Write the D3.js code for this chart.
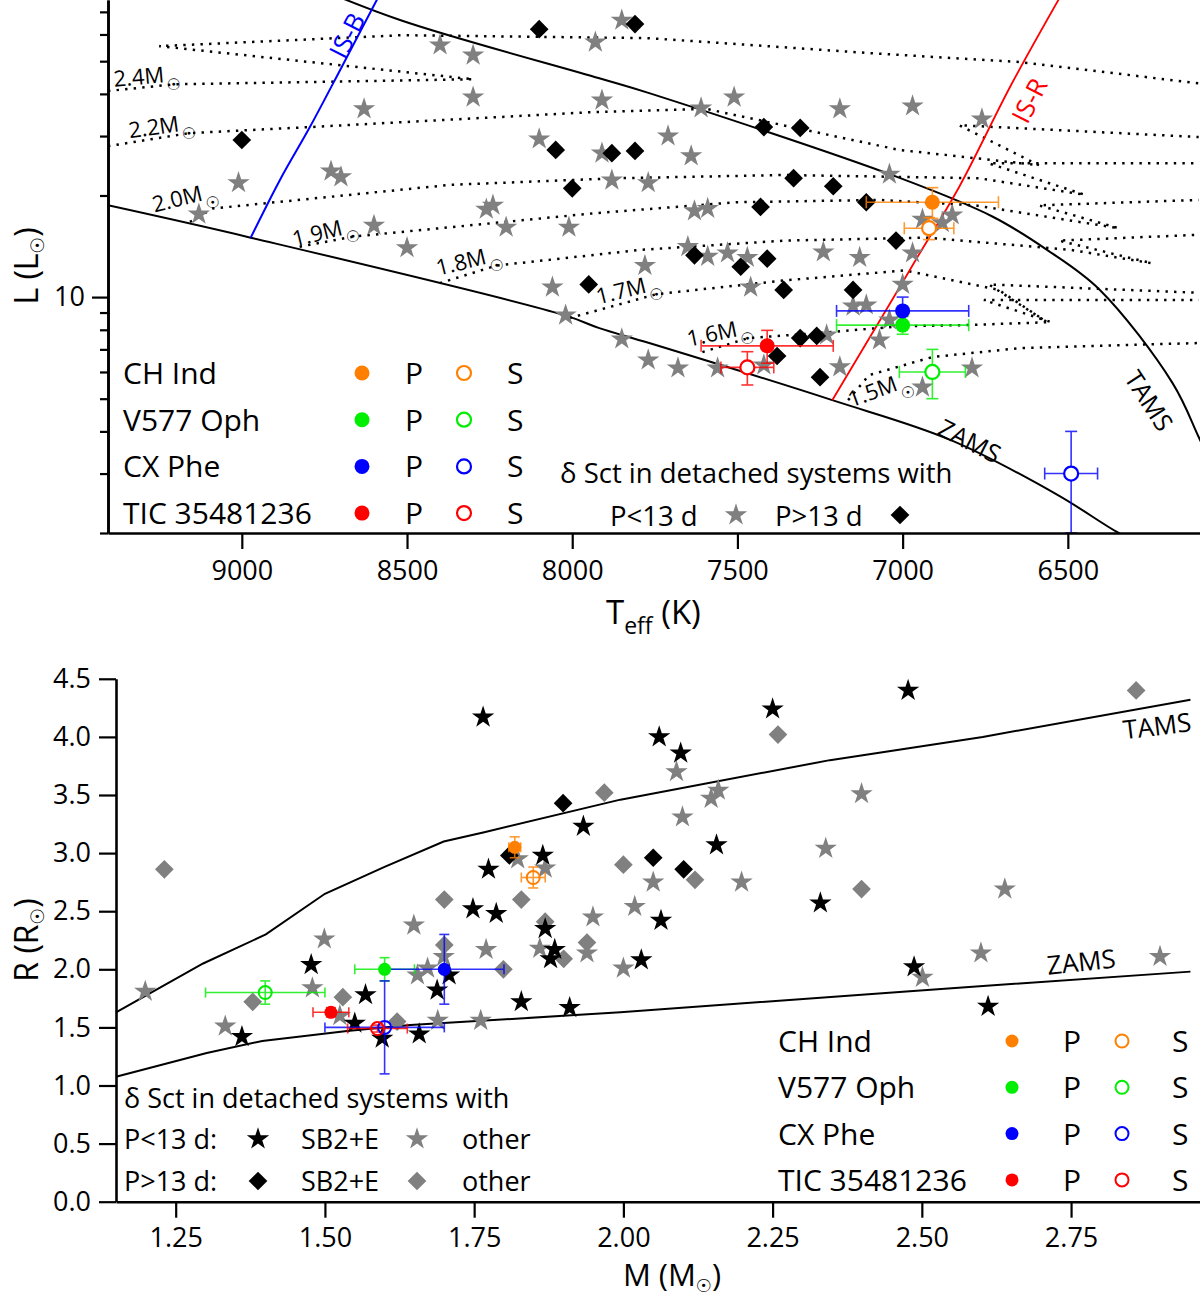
<!DOCTYPE html>
<html>
<head>
<meta charset="utf-8">
<script src="https://cdn.jsdelivr.net/npm/d3@7"></script>
<style>
body { margin: 0; background: #fff; }
svg { display: block; }
text { font-family: "Open Sans", sans-serif; fill: #000; }
.track { fill: none; stroke: #000; stroke-width: 2.5; stroke-dasharray: 2.4 6.2; }
.curve { fill: none; stroke: #000; stroke-width: 2; }
.sun { font-family: "DejaVu Sans", sans-serif; }
</style>
</head>
<body>
<svg id="chart" width="1200" height="1299"></svg>
<script>
// ---------- top panel: HR diagram (Teff [K], L [Lsun]) ----------
// delta Sct stars in detached systems, P < 13 d
const hrShort = [
  [8400, 55.8], [8300, 52.1], [7850, 66.1], [7930, 56.9], [8300, 39.1], [8630, 36.1],
  [7910, 38.3], [7510, 39.1], [7610, 36.3], [7190, 36.1], [6970, 36.8], [6760, 33.7],
  [8100, 29.4], [7710, 30.0], [7640, 26.2], [7910, 26.7], [8730, 23.6], [8700, 22.7],
  [9010, 21.8], [7880, 22.2], [7770, 21.8], [7040, 23.1], [9130, 17.6], [8260, 18.2],
  [8240, 18.7], [8200, 16.1], [8010, 16.1], [8600, 16.3], [8500, 14.0], [8060, 10.7],
  [7780, 12.4], [7630, 18.0], [7590, 18.3], [6850, 17.5], [6940, 17.0], [6880, 16.6],
  [6970, 13.5], [7240, 13.6], [7130, 13.1], [7650, 14.1], [7590, 13.2], [7530, 13.5],
  [7470, 13.1], [7460, 10.7], [7000, 10.9], [7150, 9.40], [7110, 9.47], [7070, 7.46],
  [7040, 8.55], [7230, 7.72], [7850, 7.51], [7770, 6.51], [7680, 6.16], [7560, 6.16],
  [7420, 6.29], [7190, 6.21], [6940, 5.41], [6790, 6.16], [8020, 8.84]
];
// P > 13 d
const hrLong = [
  [8100, 62.2], [7810, 64.4], [9000, 29.2], [8050, 27.3], [7880, 26.7], [7810, 27.1],
  [8000, 21.0], [7950, 10.9], [7420, 31.9], [7310, 31.7], [7330, 22.5], [7210, 21.3],
  [7430, 18.5], [7110, 19.1], [7630, 13.3], [7490, 12.3], [7410, 13.0], [7020, 14.7],
  [7360, 10.5], [7150, 10.5], [7310, 7.56], [7260, 7.67], [7380, 6.69], [7250, 5.79]
];

const zamsHR = [[9405, 18.7], [8973, 15.0], [8024, 8.84], [7918, 8.09], [7767, 7.31],
  [7213, 4.95], [6854, 3.77], [6530, 2.59], [6346, 2.0], [6250, 1.8]];
const tamsHR = [[8830, 87], [8519, 66.1], [7918, 44.5], [7767, 40.2], [7017, 22.7],
  [6727, 17.3], [6563, 13.8], [6403, 10.5], [6183, 5.56], [6104, 3.85], [6059, 3.07]];
const isBlueEdge = [[8973, 15.0], [8885, 22.2], [8794, 31.9], [8698, 48.0], [8568, 84.0]];
const isRedEdge = [[7213, 4.95], [7032, 9.8], [6956, 13.1], [6829, 21.2], [6669, 43.0], [6503, 84.0]];

// evolutionary tracks
const trackMasses = ["2.4M", "2.2M", "2.0M", "1.9M", "1.8M", "1.7M", "1.6M", "1.5M"];
const tracks = [
  [[9405, 40.8], [9206, 42.7], [8300, 44.2], [9250, 55.4], [8516, 59.7], [7767, 58.5], [7096, 52.8], [6645, 49.7], [6104, 43.0]],
  [[9405, 28.0], [9160, 30.6], [8794, 31.9], [7945, 35.3], [7594, 36.1], [7011, 27.3], [6588, 24.6], [6829, 32.3], [6104, 29.8]],
  [[9157, 16.7], [9088, 18.3], [8371, 21.5], [7866, 22.5], [7359, 23.0], [6769, 22.5], [6449, 20.1], [6739, 24.9], [6104, 24.9]],
  [[8825, 14.1], [8664, 15.1], [8371, 16.1], [7939, 17.7], [7504, 19.1], [7071, 19.4], [6781, 18.7], [6346, 16.0], [6588, 18.7], [6104, 19.4]],
  [[8401, 11.0], [8229, 12.4], [7794, 13.8], [7359, 14.7], [6926, 15.0], [6491, 13.8], [6246, 12.6], [6527, 14.7], [6104, 15.3]],
  [[8008, 8.67], [7745, 10.2], [7359, 11.2], [6993, 12.0], [6709, 10.5], [6563, 8.43], [6739, 10.9], [6104, 10.3]],
  [[7606, 6.87], [7467, 7.56], [7216, 7.88], [7005, 8.2], [6811, 8.26], [6551, 8.43], [6754, 9.8], [6104, 9.8]],
  [[7165, 4.95], [7102, 5.87], [6911, 6.64], [6645, 7.06], [6104, 7.31]]
];
const trackLabelAt = [[9206, 42.7], [9160, 30.6], [9088, 19.1], [8664, 15.1], [8229, 12.4], [7745, 10.2], [7470, 7.56], [6984, 5.23]];
const trackLabelTilt = [-5, -8, -14, -14, -14, -14, -12, -20];

// studied systems: [value, value, err, err]
const systems = ["CH Ind", "V577 Oph", "CX Phe", "TIC 35481236"];
const sysColors = ["#ff8000", "#00ee00", "#0000ff", "#ff0000"];
const hrPrim = [[6910, 19.1, 200, 2.0], [7000, 8.26, 200, 0.5], [7000, 9.1, 200, 0.9], [7410, 7.17, 200, 0.8]];
const hrSec = [[6920, 16.0, 75, 1.2], [6910, 6.0, 100, 1.0], [6490, 3.0, 80, 1.0], [7470, 6.19, 80, 0.7]];

// ---------- bottom panel: M [Msun] vs R [Rsun] ----------
const mrShortSB2 = [
  [1.765, 4.17], [1.477, 2.04], [1.568, 1.78], [1.688, 1.82], [1.708, 1.95], [1.748, 2.52],
  [1.787, 2.48], [1.774, 2.86], [1.865, 2.98], [1.933, 3.23], [1.829, 1.72], [1.910, 1.67],
  [1.869, 2.35], [1.885, 2.17], [1.878, 2.09], [1.361, 1.42], [1.550, 1.535], [1.596, 1.406],
  [1.658, 1.443], [2.477, 4.40], [2.250, 4.24], [2.060, 4.00], [2.096, 3.86], [2.156, 3.07],
  [2.330, 2.57], [2.063, 2.42], [2.030, 2.08], [2.487, 2.02], [2.611, 1.68]
];
const mrShortOther = [
  [1.199, 1.81], [1.499, 2.26], [1.479, 1.84], [1.649, 2.38], [1.770, 2.17], [1.860, 2.18],
  [1.823, 2.95], [1.869, 2.87], [1.949, 2.45], [1.939, 2.14], [1.655, 1.95], [1.672, 2.01],
  [1.699, 2.11], [1.333, 1.51], [1.689, 1.56], [1.761, 1.56], [1.525, 1.60],
  [2.089, 3.70], [2.147, 3.47], [2.159, 3.54], [2.099, 3.31], [2.399, 3.51], [2.339, 3.04],
  [2.198, 2.75], [2.050, 2.75], [2.019, 2.54], [2.639, 2.69], [2.000, 2.01], [2.599, 2.14],
  [2.501, 1.93], [2.899, 2.11]
];
const mrLongSB2 = [[1.899, 3.43], [1.809, 2.98], [2.050, 2.96], [2.101, 2.86]];
const mrLongOther = [
  [1.231, 2.86], [1.379, 1.72], [1.530, 1.76], [1.700, 2.60], [1.829, 2.60], [1.700, 2.21],
  [1.799, 2.00], [1.869, 2.41], [1.900, 2.09], [1.939, 2.23], [1.968, 3.52], [2.000, 2.90],
  [1.621, 1.55], [2.859, 4.40], [2.259, 4.02], [2.120, 2.77], [2.399, 2.69]
];
const tamsMR = [[1.15, 1.63], [1.296, 2.05], [1.401, 2.30], [1.50, 2.65], [1.599, 2.88], [1.699, 3.10],
  [1.767, 3.18], [1.995, 3.46], [2.346, 3.80], [2.602, 4.00], [2.95, 4.32]];
const zamsMR = [[1.15, 1.076], [1.302, 1.28], [1.395, 1.383], [1.537, 1.47], [1.643, 1.52],
  [1.995, 1.63], [2.474, 1.81], [2.95, 1.98]];
const mrPrim = [[1.818, 3.05, 0.01, 0.09], [1.60, 2.00, 0.05, 0.10], [1.70, 2.00, 0.10, 0.30], [1.51, 1.63, 0.03, 0.04]];
const mrSec = [[1.849, 2.79, 0.02, 0.09], [1.40, 1.80, 0.10, 0.10], [1.60, 1.50, 0.10, 0.40], [1.588, 1.49, 0.05, 0.03]];

const tempTicks = [9000, 8500, 8000, 7500, 7000, 6500];
const lumMinorTicks = [2, 3, 4, 5, 6, 7, 8, 9, 20, 30, 40, 50, 60, 70];
const massTicks = [1.25, 1.5, 1.75, 2.0, 2.25, 2.5, 2.75];
const radiusTicks = [0, 0.5, 1, 1.5, 2, 2.5, 3, 3.5, 4, 4.5];

const GREY = "#808080";
const svg = d3.select("#chart");
const starSym = d3.symbol(d3.symbolStar, 155);
const diaSym = d3.symbol(d3.symbolSquare, 175);
const diaSymBig = d3.symbol(d3.symbolSquare, 175);

function styleAxis(g, fs) {
    g.attr("font-size", null).attr("font-family", null);
    g.select(".domain").attr("stroke-width", 2.6);
    g.selectAll(".tick line").attr("stroke-width", 2.2);
    g.selectAll(".tick text").style("font-size", fs + "px");
}

function drawErrors(g, xs, ys, pts, color, cap) {
    pts.forEach(p => {
        const [a, b, ea, eb] = p;
        const e = g.append("g").attr("stroke", color).attr("stroke-width", 1.6).attr("opacity", 0.8);
        const cx = xs(a), cy = ys(b);
        const xl = xs(a - ea), xr = xs(a + ea);
        const yt = ys(b + eb), yb = ys(b - eb);
        e.append("line").attr("x1", xl).attr("x2", xr).attr("y1", cy).attr("y2", cy);
        e.append("line").attr("x1", xl).attr("x2", xl).attr("y1", cy - cap).attr("y2", cy + cap);
        e.append("line").attr("x1", xr).attr("x2", xr).attr("y1", cy - cap).attr("y2", cy + cap);
        e.append("line").attr("x1", cx).attr("x2", cx).attr("y1", yt).attr("y2", yb);
        e.append("line").attr("x1", cx - cap).attr("x2", cx + cap).attr("y1", yt).attr("y2", yt);
        e.append("line").attr("x1", cx - cap).attr("x2", cx + cap).attr("y1", yb).attr("y2", yb);
    });
}

function sunLabel(g, x, y, main, sub, size, anchor, rot) {
    const t = g.append("text")
        .attr("transform", `translate(${x},${y}) rotate(${rot || 0})`)
        .attr("text-anchor", anchor)
        .style("font-size", size + "px");
    t.append("tspan").text(main);
    t.append("tspan").attr("class", "sun").style("font-size", (size * 0.58) + "px").attr("dy", size * 0.18).text("\u2609");
    t.append("tspan").attr("dy", -size * 0.18).text(sub);
    return t;
}

// ================= TOP PANEL =================
const x1 = d3.scaleLinear().domain([9405, 6100]).range([108, 1200]);
const y1 = d3.scaleLog().domain([2, 75.9]).range([533, 0]);
const lineHR = d3.line().x(d => x1(d[0])).y(d => y1(d[1]));
const smoothHR = d3.line().x(d => x1(d[0])).y(d => y1(d[1])).curve(d3.curveCatmullRom);

svg.append("clipPath").attr("id", "clipTop")
    .append("rect").attr("x", 108).attr("y", -40).attr("width", 1092).attr("height", 573);

const topG = svg.append("g").attr("clip-path", "url(#clipTop)");

topG.selectAll(".track").data(tracks).join("path").attr("class", "track").attr("d", lineHR);
topG.append("path").attr("class", "curve").attr("d", smoothHR(zamsHR));
topG.append("path").attr("class", "curve").attr("d", smoothHR(tamsHR));
topG.append("path").attr("class", "curve").style("stroke", "#0000ff").attr("d", smoothHR(isBlueEdge));
topG.append("path").attr("class", "curve").style("stroke", "#ff0000").style("stroke-width", 1.8).attr("d", smoothHR(isRedEdge));

// track labels
trackMasses.forEach((m, i) => {
    const [t, l] = trackLabelAt[i];
    const px = x1(t), py = y1(l);
    topG.append("text").attr("class", "sun").attr("x", px).attr("y", py)
        .attr("text-anchor", "middle").attr("dominant-baseline", "central")
        .style("font-size", "16px").text("\u2609");
    topG.append("text")
        .attr("transform", `translate(${px - 9},${py - 2}) rotate(${trackLabelTilt[i]})`)
        .attr("text-anchor", "end").style("font-size", "22px").text(m);
});

// line labels
function lineLabel(g, x, y, txt, rot, color, fs) {
    g.append("text").attr("transform", `translate(${x},${y}) rotate(${rot})`)
        .attr("text-anchor", "middle").attr("dominant-baseline", "central")
        .style("font-size", fs + "px").style("fill", color).text(txt);
}
lineLabel(topG, x1(8683), y1(59.7), "IS-B", -63, "#0000ff", 26);
lineLabel(topG, x1(6618), y1(38.3), "IS-R", -63, "#ff0000", 26);
lineLabel(topG, x1(6796), y1(3.77), "ZAMS", 27, "#000", 25);
lineLabel(topG, x1(6252), y1(4.95), "TAMS", 57, "#000", 25);

// comparison sample
topG.selectAll(".hrS").data(hrShort).join("path").attr("class", "hrS")
    .attr("d", starSym).attr("fill", GREY)
    .attr("transform", d => `translate(${x1(d[0])},${y1(d[1])})`);
topG.selectAll(".hrL").data(hrLong).join("path").attr("class", "hrL")
    .attr("d", diaSym).attr("fill", "#000")
    .attr("transform", d => `translate(${x1(d[0])},${y1(d[1])}) rotate(45)`);

// studied systems
systems.forEach((s, i) => {
    drawErrors(topG, x1, y1, [hrSec[i]], sysColors[i], 6);
    drawErrors(topG, x1, y1, [hrPrim[i]], sysColors[i], 6);
});
systems.forEach((s, i) => {
    topG.append("circle").attr("cx", x1(hrSec[i][0])).attr("cy", y1(hrSec[i][1])).attr("r", 7)
        .attr("fill", "#fff").attr("stroke", sysColors[i]).attr("stroke-width", 2.2);
    topG.append("circle").attr("cx", x1(hrPrim[i][0])).attr("cy", y1(hrPrim[i][1])).attr("r", 7.5)
        .attr("fill", sysColors[i]);
});

// axes
const xAxisTop = svg.append("g").attr("transform", "translate(0,533)")
    .call(d3.axisBottom(x1).tickValues(tempTicks).tickSize(16).tickSizeOuter(0).tickPadding(12).tickFormat(d3.format("d")));
styleAxis(xAxisTop, 27);
const yMinorTop = svg.append("g").attr("transform", "translate(108,0)")
    .call(d3.axisLeft(y1).tickValues(lumMinorTicks).tickSize(8).tickSizeOuter(0).tickFormat(""));
styleAxis(yMinorTop, 27);
const yMajorTop = svg.append("g").attr("transform", "translate(108,0)")
    .call(d3.axisLeft(y1).tickValues([10]).tickSize(16).tickSizeOuter(0).tickPadding(7).tickFormat(d3.format("d")));
styleAxis(yMajorTop, 27);

// axis titles
const tTitle = svg.append("text").attr("x", 606).attr("y", 624).style("font-size", "33px");
tTitle.append("tspan").text("T");
tTitle.append("tspan").attr("dy", 10).style("font-size", "23px").text("eff");
tTitle.append("tspan").attr("dy", -10).text(" (K)");
sunLabel(svg, 38, 266, "L (L", ")", 32, "middle", -90);

// legend (top)
const legTop = svg.append("g");
systems.forEach((s, i) => {
    const cy = 373 + i * 46.7;
    legTop.append("text").attr("x", 123).attr("y", cy + 11).style("font-size", "30px").text(s);
    legTop.append("circle").attr("cx", 362).attr("cy", cy).attr("r", 7.5).attr("fill", sysColors[i]);
    legTop.append("text").attr("x", 405).attr("y", cy + 11).style("font-size", "30px").text("P");
    legTop.append("circle").attr("cx", 464).attr("cy", cy).attr("r", 7).attr("fill", "#fff")
        .attr("stroke", sysColors[i]).attr("stroke-width", 2.2);
    legTop.append("text").attr("x", 507).attr("y", cy + 11).style("font-size", "30px").text("S");
});
legTop.append("text").attr("x", 560).attr("y", 483).style("font-size", "27.5px").text("\u03b4 Sct in detached systems with");
legTop.append("text").attr("x", 610).attr("y", 526).style("font-size", "27.5px").text("P<13 d");
legTop.append("path").attr("d", starSym).attr("fill", GREY).attr("transform", "translate(736,515)");
legTop.append("text").attr("x", 775).attr("y", 526).style("font-size", "27.5px").text("P>13 d");
legTop.append("path").attr("d", diaSym).attr("fill", "#000").attr("transform", "translate(900,515) rotate(45)");

// ================= BOTTOM PANEL =================
const x2 = d3.scaleLinear().domain([1.15, 2.966]).range([116, 1200]);
const y2 = d3.scaleLinear().domain([0, 4.5]).range([1201.7, 678.8]);
const lineMR = d3.line().x(d => x2(d[0])).y(d => y2(d[1]));
const botG = svg.append("g");

botG.append("path").attr("class", "curve").attr("d", lineMR(tamsMR));
botG.append("path").attr("class", "curve").attr("d", lineMR(zamsMR));
lineLabel(botG, x2(2.894), y2(4.10), "TAMS", -7, "#000", 26);
lineLabel(botG, x2(2.767), y2(2.07), "ZAMS", -6, "#000", 26);

botG.selectAll(".mrLO").data(mrLongOther).join("path").attr("class", "mrLO")
    .attr("d", diaSymBig).attr("fill", GREY)
    .attr("transform", d => `translate(${x2(d[0])},${y2(d[1])}) rotate(45)`);
botG.selectAll(".mrSO").data(mrShortOther).join("path").attr("class", "mrSO")
    .attr("d", starSym).attr("fill", GREY)
    .attr("transform", d => `translate(${x2(d[0])},${y2(d[1])})`);
botG.selectAll(".mrSS").data(mrShortSB2).join("path").attr("class", "mrSS")
    .attr("d", starSym).attr("fill", "#000")
    .attr("transform", d => `translate(${x2(d[0])},${y2(d[1])})`);
botG.selectAll(".mrLS").data(mrLongSB2).join("path").attr("class", "mrLS")
    .attr("d", diaSymBig).attr("fill", "#000")
    .attr("transform", d => `translate(${x2(d[0])},${y2(d[1])}) rotate(45)`);

systems.forEach((s, i) => {
    drawErrors(botG, x2, y2, [mrSec[i]], sysColors[i], 5);
    drawErrors(botG, x2, y2, [mrPrim[i]], sysColors[i], 5);
});
systems.forEach((s, i) => {
    botG.append("circle").attr("cx", x2(mrSec[i][0])).attr("cy", y2(mrSec[i][1])).attr("r", 6.5)
        .attr("fill", "none").attr("stroke", sysColors[i]).attr("stroke-width", 2);
    botG.append("circle").attr("cx", x2(mrPrim[i][0])).attr("cy", y2(mrPrim[i][1])).attr("r", 6.5)
        .attr("fill", sysColors[i]);
});

const xAxisBot = svg.append("g").attr("transform", "translate(0,1201.7)")
    .call(d3.axisBottom(x2).tickValues(massTicks).tickSize(16).tickSizeOuter(0).tickPadding(10).tickFormat(d3.format(".2f")));
styleAxis(xAxisBot, 27);
const yAxisBot = svg.append("g").attr("transform", "translate(116,0)")
    .call(d3.axisLeft(y2).tickValues(radiusTicks).tickSize(17).tickSizeOuter(0).tickPadding(8).tickFormat(d3.format(".1f")));
styleAxis(yAxisBot, 27);

sunLabel(svg, 672, 1286, "M (M", ")", 31, "middle", 0);
sunLabel(svg, 38, 940, "R (R", ")", 32, "middle", -90);

// legend (bottom right)
const legBot = svg.append("g");
systems.forEach((s, i) => {
    const cy = 1041 + i * 46.3;
    legBot.append("text").attr("x", 778).attr("y", cy + 11).style("font-size", "30px").text(s);
    legBot.append("circle").attr("cx", 1012).attr("cy", cy).attr("r", 6.5).attr("fill", sysColors[i]);
    legBot.append("text").attr("x", 1063).attr("y", cy + 11).style("font-size", "30px").text("P");
    legBot.append("circle").attr("cx", 1122).attr("cy", cy).attr("r", 6.5).attr("fill", "none")
        .attr("stroke", sysColors[i]).attr("stroke-width", 2);
    legBot.append("text").attr("x", 1172).attr("y", cy + 11).style("font-size", "30px").text("S");
});

// legend (bottom left)
legBot.append("text").attr("x", 124).attr("y", 1108).style("font-size", "27px").text("\u03b4 Sct in detached systems with");
[["P<13 d:", starSym, 0], ["P>13 d:", diaSymBig, 45]].forEach(([lab, sym, rot], i) => {
    const cy = 1139 + i * 42;
    legBot.append("text").attr("x", 124).attr("y", cy + 10).style("font-size", "27px").text(lab);
    legBot.append("path").attr("d", sym).attr("fill", "#000").attr("transform", `translate(258,${cy}) rotate(${rot})`);
    legBot.append("text").attr("x", 301).attr("y", cy + 10).style("font-size", "27px").text("SB2+E");
    legBot.append("path").attr("d", sym).attr("fill", GREY).attr("transform", `translate(417,${cy}) rotate(${rot})`);
    legBot.append("text").attr("x", 462).attr("y", cy + 10).style("font-size", "27px").text("other");
});
</script>
</body>
</html>
